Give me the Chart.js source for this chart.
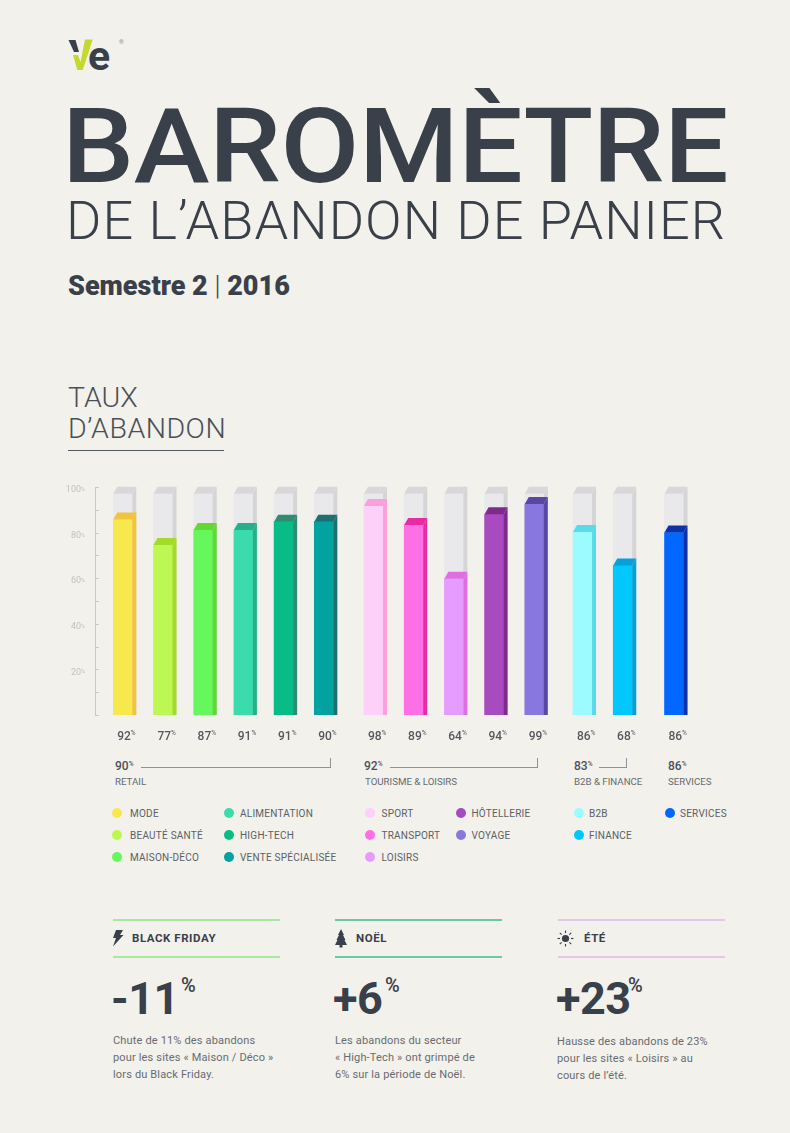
<!DOCTYPE html>
<html lang="fr">
<head>
<meta charset="utf-8">
<title>Baromètre de l'abandon de panier</title>
<script src="https://cdn.jsdelivr.net/npm/chart.js@4/dist/chart.umd.min.js"></script>
<style>
  html, body { margin: 0; padding: 0; }
  body { width: 790px; height: 1133px; background: #f2f1eb; position: relative; overflow: hidden;
         font-family: Roboto, sans-serif; color: #3a4049; }
  .t { position: absolute; white-space: nowrap; transform: translateY(-50%); }
  .line { position: absolute; }
  sup { font-size: 0.5em; vertical-align: baseline; position: relative; top: -0.55em; }
  canvas { position: absolute; left: 0; top: 470px; }
  .dot { position: absolute; width: 10px; height: 10px; border-radius: 50%; transform: translate(-50%, -50%); }
  .leg { font-size: 10px; letter-spacing: 0.24px; color: #5c6066; }
  .grp { font-size: 12px; font-weight: 500; color: #4d5157; }
  .grp sup { font-size: 6.5px; }
  .cap { font-size: 9.7px; color: #666a70; }
  .head { font-size: 11.5px; font-weight: 700; letter-spacing: 0.55px; color: #3a4049; }
  .big { font-size: 45px; font-weight: 700; letter-spacing: -0.5px; color: #3a4049; }
  .pct { font-size: 20px; font-weight: 500; color: #3a4049; }
  .body { font-size: 11px; letter-spacing: 0.16px; color: #686c72; }
</style>
</head>
<body>

<!-- logo -->
<svg class="line" style="left:60px;top:35px" width="40" height="40" viewBox="0 0 40 40">
  <polygon points="8.5,5 15.5,5 19,17 14,17" fill="#3a4049"/>
  <polygon points="25,4.5 32.7,4.5 22.7,35 17.3,35 13,20 18,20 20.5,27" fill="#c5d92c"/>
</svg>
<div class="t" style="left:88px;top:56px;font-size:41px;font-weight:700">e</div>
<div class="t" style="left:119px;top:41px;font-size:6px;color:#888">®</div>

<!-- titles -->
<div class="t" id="title" style="left:62px;top:146px;font-size:104px;font-weight:500;letter-spacing:-0.5px;transform-origin:left center;transform:translateY(-50%) scaleX(1.1)">BAROMÈTRE</div>
<div class="t" style="left:66px;top:220px;font-size:54px;font-weight:300;letter-spacing:1.05px">DE L’ABANDON DE PANIER</div>
<div class="t" style="left:68px;top:286px;font-size:27px;font-weight:900">Semestre 2 <span style="font-weight:300">|</span> 2016</div>
<div class="t" style="left:68px;top:397px;font-size:28.5px;font-weight:300;color:#4a4f56">TAUX</div>
<div class="t" style="left:68px;top:428px;font-size:28.5px;font-weight:300;letter-spacing:0.5px;color:#4a4f56">D’ABANDON</div>
<div class="line" style="left:68px;top:449.5px;width:156px;height:1.5px;background:#555960"></div>

<canvas id="barChart" width="790" height="280"></canvas>

<!-- group averages -->
<div class="t grp" style="left:115px;top:766px">90<sup>%</sup></div>
<div class="t cap" style="left:115px;top:781px">RETAIL</div>
<div class="line" style="left:141px;top:767px;width:189px;height:1px;background:#8f9296"></div>
<div class="line" style="left:330px;top:758px;width:1px;height:10px;background:#8f9296"></div>

<div class="t grp" style="left:364px;top:766px">92<sup>%</sup></div>
<div class="t cap" style="left:365px;top:781px">TOURISME &amp; LOISIRS</div>
<div class="line" style="left:390px;top:767px;width:147px;height:1px;background:#8f9296"></div>
<div class="line" style="left:537px;top:758px;width:1px;height:10px;background:#8f9296"></div>

<div class="t grp" style="left:574px;top:766px">83<sup>%</sup></div>
<div class="t cap" style="left:574px;top:781px">B2B &amp; FINANCE</div>
<div class="line" style="left:599px;top:767px;width:27px;height:1px;background:#8f9296"></div>
<div class="line" style="left:626px;top:758px;width:1px;height:10px;background:#8f9296"></div>

<div class="t grp" style="left:668px;top:766px">86<sup>%</sup></div>
<div class="t cap" style="left:668px;top:781px">SERVICES</div>

<div id="legend"></div>

<!-- cards -->
<div class="line" style="left:113px;top:919px;width:167px;height:2px;background:#a9e8a0"></div>
<div class="line" style="left:113px;top:955.5px;width:167px;height:2px;background:#a9e8a0"></div>
<div class="line" style="left:335px;top:919px;width:167px;height:2px;background:#6cc9a5"></div>
<div class="line" style="left:335px;top:955.5px;width:167px;height:2px;background:#6cc9a5"></div>
<div class="line" style="left:558px;top:919px;width:167px;height:2px;background:#e6c6e8"></div>
<div class="line" style="left:558px;top:955.5px;width:167px;height:2px;background:#e6c6e8"></div>

<svg class="line" style="left:112px;top:929px" width="12" height="18" viewBox="0 0 12 18">
  <polygon points="4,1 11,1 8,6 11.5,6 1,17.5 4,9 1,9" fill="#3a4049"/>
</svg>
<svg class="line" style="left:334px;top:928px" width="14" height="20" viewBox="0 0 14 20">
  <polygon points="7,1 10,7 9,7 11.5,12 10.5,12 13,17 8.5,17 8.5,19.5 5.5,19.5 5.5,17 1,17 3.5,12 2.5,12 5,7 4,7" fill="#3a4049"/>
</svg>
<svg class="line" style="left:557px;top:930px" width="17" height="17" viewBox="0 0 17 17">
  <circle cx="8.5" cy="8.5" r="3.6" fill="#3a4049"/>
  <g stroke="#3a4049" stroke-width="1.1">
    <line x1="8.5" y1="0.5" x2="8.5" y2="3"/><line x1="8.5" y1="14" x2="8.5" y2="16.5"/>
    <line x1="0.5" y1="8.5" x2="3" y2="8.5"/><line x1="14" y1="8.5" x2="16.5" y2="8.5"/>
    <line x1="2.8" y1="2.8" x2="4.6" y2="4.6"/><line x1="12.4" y1="12.4" x2="14.2" y2="14.2"/>
    <line x1="2.8" y1="14.2" x2="4.6" y2="12.4"/><line x1="12.4" y1="4.6" x2="14.2" y2="2.8"/>
  </g>
</svg>

<div class="t head" style="left:132px;top:938px">BLACK FRIDAY</div>
<div class="t head" style="left:356px;top:938px">NOËL</div>
<div class="t head" style="left:584px;top:938px">ÉTÉ</div>

<div class="t big" style="left:111px;top:998px">-11</div>
<div class="t pct" style="left:181px;top:985px">%</div>
<div class="t big" style="left:333px;top:998px">+6</div>
<div class="t pct" style="left:385px;top:985px">%</div>
<div class="t big" style="left:556px;top:998px">+23</div>
<div class="t pct" style="left:628px;top:985px">%</div>

<div class="t body" style="left:113px;top:1040px">Chute de 11% des abandons</div>
<div class="t body" style="left:113px;top:1057px">pour les sites « Maison / Déco »</div>
<div class="t body" style="left:113px;top:1074px">lors du Black Friday.</div>
<div class="t body" style="left:335px;top:1040px">Les abandons du secteur</div>
<div class="t body" style="left:335px;top:1057px">« High-Tech » ont grimpé de</div>
<div class="t body" style="left:335px;top:1074px">6% sur la période de Noël.</div>
<div class="t body" style="left:557px;top:1041px">Hausse des abandons de 23%</div>
<div class="t body" style="left:557px;top:1058px">pour les sites « Loisirs » au</div>
<div class="t body" style="left:557px;top:1075px">cours de l’été.</div>

<script>
// Data
const categories = ["MODE", "BEAUTÉ SANTÉ", "MAISON-DÉCO", "ALIMENTATION", "HIGH-TECH", "VENTE SPÉCIALISÉE",
  "SPORT", "TRANSPORT", "LOISIRS", "HÔTELLERIE", "VOYAGE", "B2B", "FINANCE", "SERVICES"];
// height of each front face on the axis (the picture's bars do not follow their printed labels)
const barHeights = [85.7, 74.6, 81.1, 81.1, 84.8, 84.8, 91.7, 83.3, 59.8, 88, 92.5, 80.3, 65.6, 80];
const printedValues = [92, 77, 87, 91, 91, 90, 98, 89, 64, 94, 99, 86, 68, 86];
const ghostHeights = [97, 97, 97, 97, 97, 97, 97, 97, 97, 97, 97, 97, 97, 97];
const groupSizes = [6, 5, 2, 1];
const yTickLabels = [20, 40, 60, 80, 100];

// Styles
const frontColors = ["#f7e84e", "#bdf752", "#66f75c", "#3adcab", "#08bd85", "#01a2a0",
  "#fdd0fa", "#fd70e5", "#e69cff", "#a84bc0", "#8877de", "#9bfbff", "#00c8ff", "#0068ff"];
const sideColors = ["#f2c43c", "#a2dc26", "#62d835", "#25b08b", "#2d8c72", "#1d706f",
  "#fd9fda", "#e82ba5", "#de6fe0", "#7e2b8c", "#5a46a3", "#5ad9e8", "#07a0d8", "#0b32a8"];
const groupGaps = [0, 0.236, 0.2, 0.276];
const legendColumns = [[117, 130], [229, 240], [370, 381.5], [461, 471.5], [578.5, 589], [670, 680]];
const legendCounts = [3, 3, 3, 2, 2, 1];
const legendRows = [813, 835, 857];

// Slot position of each bar along the x axis, with a wider gap between groups
function barPositions() {
  let positions = [];
  let cursor = 0;
  groupSizes.forEach((size, g) => {
    cursor += groupGaps[g];
    for (let i = 0; i < size; i++) {
      positions.push(cursor);
      cursor += 1;
    }
  });
  return positions;
}
const positions = barPositions();

function buildLegend() {
  const legend = document.getElementById("legend");
  let html = "";
  let index = 0;
  legendCounts.forEach((count, c) => {
    for (let r = 0; r < count; r++) {
      const [dotX, textX] = legendColumns[c];
      html += `<div class="dot" style="left:${dotX}px;top:${legendRows[r]}px;background:${frontColors[index]}"></div>`;
      html += `<div class="t leg" style="left:${textX}px;top:${legendRows[r]}px">${categories[index]}</div>`;
      index++;
    }
  });
  legend.innerHTML = html;
}
buildLegend();

// Draws the extruded side and top of each bar from the bar elements
const DEPTH_X = 4;
const DEPTH_Y = 7;
function drawExtrusion(ctx, bar, side, top) {
  const right = bar.x + bar.width / 2;
  const left = bar.x - bar.width / 2;
  ctx.fillStyle = side;
  ctx.beginPath();
  ctx.moveTo(right, bar.base);
  ctx.lineTo(right + DEPTH_X, bar.base);
  ctx.lineTo(right + DEPTH_X, bar.y - DEPTH_Y);
  ctx.lineTo(right, bar.y);
  ctx.closePath();
  ctx.fill();
  ctx.fillStyle = top;
  ctx.beginPath();
  ctx.moveTo(left, bar.y);
  ctx.lineTo(left + DEPTH_X, bar.y - DEPTH_Y);
  ctx.lineTo(right + DEPTH_X, bar.y - DEPTH_Y);
  ctx.lineTo(right, bar.y);
  ctx.closePath();
  ctx.fill();
}

const extrusionPlugin = {
  id: "extrusion",
  afterDatasetDraw(chart, args) {
    const ctx = chart.ctx;
    const isGhost = args.index === 1;
    args.meta.data.forEach((bar, i) => {
      drawExtrusion(ctx, bar, isGhost ? "#d5d5d7" : sideColors[i], isGhost ? "#d8d8da" : sideColors[i]);
    });
  },
};

// Inward tick marks on the y axis and the small % signs beside the tick labels
const axisDecorPlugin = {
  id: "axisDecor",
  afterDraw(chart) {
    const ctx = chart.ctx;
    const yScale = chart.scales.y;
    const xScale = chart.scales.x;
    ctx.save();
    ctx.strokeStyle = "#c9c9c7";
    ctx.lineWidth = 1;
    yScale.ticks.forEach((tick) => {
      const y = Math.round(yScale.getPixelForValue(tick.value)) + 0.5;
      ctx.beginPath();
      ctx.moveTo(yScale.right, y);
      ctx.lineTo(yScale.right + 4, y);
      ctx.stroke();
      if (yTickLabels.includes(tick.value)) {
        ctx.fillStyle = "#c2c2c0";
        ctx.font = "5.5px Roboto";
        ctx.textAlign = "left";
        ctx.textBaseline = "alphabetic";
        ctx.fillText("%", yScale.right - 14, y + 3);
      }
    });
    ctx.fillStyle = "#55595f";
    ctx.font = "500 12px Roboto";
    const labelWidth = ctx.measureText("00").width;
    ctx.font = "6.5px Roboto";
    ctx.textAlign = "left";
    ctx.textBaseline = "top";
    xScale.ticks.forEach((tick) => {
      ctx.fillText("%", xScale.getPixelForValue(tick.value) + labelWidth / 2, xScale.top + 15);
    });
    ctx.restore();
  },
};

new Chart(document.getElementById("barChart"), {
  type: "bar",
  data: {
    datasets: [
      {
        data: positions.map((x, i) => ({ x: x, y: barHeights[i] })),
        backgroundColor: frontColors,
        barThickness: 19,
        order: 1,
      },
      {
        data: positions.map((x, i) => ({ x: x, y: ghostHeights[i] })),
        backgroundColor: "#e9e9ec",
        barThickness: 19,
        order: 2,
      },
    ],
  },
  plugins: [extrusionPlugin, axisDecorPlugin],
  options: {
    responsive: false,
    animation: false,
    layout: { padding: { top: 17, right: 90, left: 0, bottom: 0 } },
    plugins: { legend: { display: false }, tooltip: { enabled: false } },
    datasets: { bar: { grouped: false } },
    scales: {
      x: {
        type: "linear",
        offset: false,
        min: -0.6915,
        max: 14.358,
        border: { display: false },
        grid: { display: false, drawTicks: false },
        afterBuildTicks(scale) {
          scale.ticks = positions.map((p) => ({ value: p + 0.03 }));
        },
        afterFit(scale) {
          scale.height = 35;
          scale.paddingLeft = 0;
          scale.paddingRight = 0;
        },
        ticks: {
          autoSkip: false,
          maxRotation: 0,
          padding: 15,
          color: "#55595f",
          font: { family: "Roboto", size: 12, weight: "500" },
          callback: (value, index) => printedValues[index],
        },
      },
      y: {
        min: 0,
        max: 100,
        border: { display: true, color: "#c9c9c7", width: 1 },
        grid: { display: false, drawTicks: false },
        afterFit(scale) {
          scale.width = 95;
          scale.paddingTop = 0;
          scale.paddingBottom = 0;
        },
        ticks: {
          stepSize: 10,
          padding: 14,
          labelOffset: 3,
          color: "#c2c2c0",
          font: { family: "Roboto", size: 9 },
          callback: (value) => (yTickLabels.includes(value) ? value : ""),
        },
      },
    },
  },
});
</script>
</body>
</html>
